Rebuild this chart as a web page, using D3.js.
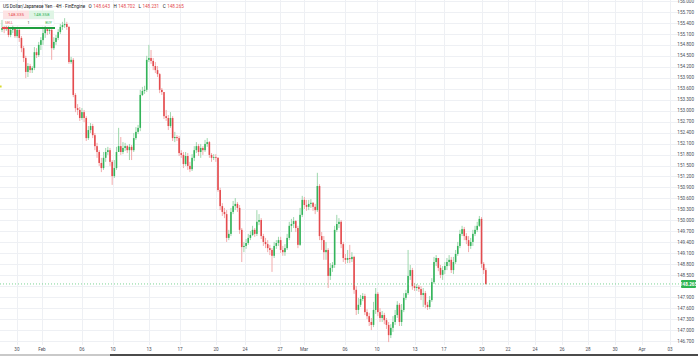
<!DOCTYPE html>
<html><head><meta charset="utf-8">
<script src="https://cdn.jsdelivr.net/npm/d3@7"></script>
<style>html,body{margin:0;padding:0;background:#fff;overflow:hidden}</style>
</head><body><svg id="c" width="698" height="356"></svg>
<script>
// ---- data (USD/JPY, 4H) ----
const firstOpen = 155.21;
const closes = [155.26,155.23,155.29,155.07,155.21,155.26,155.04,155.21,154.99,154.71,
154.44,154.06,154.22,154.11,154.17,154.60,154.52,154.80,154.93,155.12,
155.23,155.18,155.21,154.71,154.88,154.99,155.15,155.29,155.34,155.37,
155.29,154.33,154.39,153.43,153.07,153.02,152.80,152.96,152.80,152.25,
152.47,152.58,152.33,152.03,151.87,151.57,151.43,151.71,151.87,151.92,
151.60,151.21,151.43,151.87,152.03,151.87,151.98,152.03,151.92,152.01,
151.92,152.25,152.42,152.53,153.43,153.54,153.57,154.39,154.44,154.36,
154.22,154.11,154.00,153.57,153.51,152.85,152.80,152.58,152.80,152.25,
152.28,152.25,151.84,151.79,151.54,151.76,151.49,151.40,151.71,151.92,
152.03,151.87,151.98,151.92,152.09,152.14,151.79,151.71,151.73,151.71,
150.83,150.39,150.23,150.17,149.52,149.63,150.23,150.39,150.45,150.34,
149.74,149.27,149.30,149.38,149.52,149.60,149.74,149.63,149.96,150.01,
149.57,149.41,149.35,149.24,149.19,149.03,149.30,149.38,149.46,149.19,
149.13,149.24,149.52,149.85,149.90,149.98,149.79,149.33,150.15,150.56,
150.42,150.37,150.45,150.48,150.37,150.28,150.94,149.57,149.46,149.13,
149.19,148.48,148.70,148.78,149.74,149.90,149.96,149.35,148.97,148.92,
148.97,148.94,149.00,148.10,147.55,147.69,147.85,147.93,147.49,147.38,
147.22,147.14,147.55,147.99,147.49,147.33,147.41,147.27,147.14,146.86,
147.06,147.22,147.41,147.69,147.22,147.55,147.88,148.01,148.48,148.64,
148.20,148.15,148.18,148.12,147.96,148.01,147.69,147.63,147.82,148.31,
148.86,148.97,148.70,148.51,148.64,148.75,148.86,148.92,148.64,148.86,
149.08,149.30,149.63,149.76,149.57,149.46,149.30,149.41,149.63,149.74,
149.85,150.04,148.81,148.64,148.26];
const highs = [155.48,155.32,155.34,155.32,155.26,155.34,155.29,155.29,155.26,155.04,
154.77,154.50,154.30,154.28,154.22,154.74,154.71,154.88,155.01,155.23,
155.32,155.29,155.29,155.26,155.01,155.07,155.23,155.37,155.43,155.53,
155.43,155.32,154.47,154.44,153.48,153.18,153.10,153.07,153.02,152.85,
152.58,152.66,152.64,152.39,152.12,151.92,151.71,151.87,151.98,152.01,
151.98,151.65,151.65,152.01,152.53,152.28,152.14,152.12,152.06,152.09,
152.06,152.39,152.55,152.61,153.57,153.65,153.68,154.50,154.80,154.66,
154.44,154.33,154.22,154.03,153.62,153.37,153.02,152.88,152.96,152.85,
152.42,152.33,152.31,151.92,151.87,151.87,151.84,151.60,151.81,152.03,
152.14,152.09,152.09,152.03,152.20,152.25,152.17,151.84,151.81,151.81,
151.73,150.89,150.47,150.34,150.28,149.74,150.34,150.53,150.61,150.50,
150.42,149.79,149.41,149.49,149.63,149.71,149.85,149.79,150.28,150.17,
150.06,149.63,149.52,149.46,149.33,149.24,149.41,149.46,149.55,149.55,
149.30,149.35,149.63,149.96,150.04,150.09,150.01,149.85,150.34,150.67,
150.64,150.56,150.56,150.58,150.50,150.45,151.30,150.99,149.68,149.57,
149.41,149.24,148.83,148.86,149.85,150.15,150.06,150.01,149.41,149.08,
149.19,149.33,149.13,149.03,148.20,147.88,147.96,148.01,147.99,147.57,
147.47,147.33,147.77,148.15,148.04,147.60,147.52,147.47,147.33,147.22,
147.16,147.38,147.55,147.79,147.74,147.71,148.01,148.10,149.19,148.78,
148.70,148.29,148.26,148.23,148.20,148.15,148.07,147.77,147.93,148.42,
149.00,149.05,148.97,148.78,148.75,148.86,148.97,149.05,149.00,149.00,
149.19,149.41,149.74,149.85,149.82,149.65,149.57,149.52,149.74,149.85,
149.96,150.12,150.09,148.86,148.70];
const lows = [155.15,155.12,155.18,155.01,155.01,155.12,154.99,154.99,154.88,154.60,
154.33,153.89,153.92,154.03,154.03,154.11,154.44,154.47,154.66,154.80,
154.99,155.07,155.10,154.39,154.66,154.80,154.93,155.10,155.21,155.26,
155.21,154.28,154.28,153.37,152.96,152.88,152.72,152.75,152.69,152.17,
152.20,152.39,152.25,151.92,151.71,151.49,151.32,151.38,151.60,151.79,
151.49,150.97,151.16,151.38,151.92,151.79,151.81,151.90,151.84,151.65,
151.65,151.87,152.20,152.36,152.44,153.40,153.46,153.51,154.33,154.28,
154.11,154.03,153.92,153.48,153.43,152.77,152.72,152.47,152.53,152.17,
152.14,152.17,151.76,151.71,151.43,151.49,151.38,151.32,151.35,151.62,
151.84,151.76,151.71,151.79,151.87,152.01,151.71,151.60,151.65,151.60,
150.78,150.28,150.12,150.06,149.41,149.46,149.57,150.17,150.28,150.23,
149.63,148.86,149.13,149.22,149.33,149.46,149.57,149.55,149.57,149.87,
149.49,149.30,149.24,149.13,149.05,148.59,148.97,149.22,149.30,149.11,
149.03,149.03,149.19,149.46,149.68,149.79,149.68,149.24,149.30,150.09,
150.31,150.26,150.28,150.34,150.26,150.17,150.23,149.46,149.19,148.92,
148.92,148.15,148.37,148.59,148.70,149.68,149.79,149.24,148.86,148.81,
148.83,148.83,148.86,147.99,147.41,147.44,147.63,147.79,147.41,147.30,
147.11,147.00,147.08,147.44,147.38,147.22,147.22,147.16,147.03,146.67,
146.78,146.95,147.14,147.33,147.11,147.11,147.49,147.82,147.96,148.37,
148.10,148.07,148.07,148.04,147.82,147.63,147.60,147.55,147.57,147.77,
148.26,148.75,148.61,148.42,148.37,148.53,148.64,148.75,148.56,148.53,
148.81,149.03,149.24,149.57,149.46,149.35,149.13,149.22,149.30,149.57,
149.68,149.82,148.70,148.53,148.23];
const priceTicks = [146.7,147.0,147.3,147.6,147.9,148.2,148.5,148.8,149.1,149.4,149.7,150.0,
150.3,150.6,150.9,151.2,151.5,151.8,152.1,152.4,152.7,153.0,153.3,153.6,153.9,154.2,
154.5,154.8,155.1,155.4,155.7,156.0];
const timeTickLabels = ["30","Feb","06","10","13","17","20","24","27","Mar","06","10","13","17","20","22","24","26","28","30","Apr","03"];
const timeTickBars = [6.9,18.5,37,51.4,68.1,82.4,99.1,112.5,128.7,139.8,158.8,173.6,191.2,204.6,222.2,234.3,246.8,259.3,271.3,283.8,296.3,309.3];
const symbolTitle = "US Dollar/Japanese Yen · 4H · FinEngine";
const ohlcLabels = ["O","H","L","C"];
const ohlcValues = ["148.643","148.702","148.231","148.265"];
const sellPrice = "148.335", buyPrice = "148.358", qty = "1";
const lastPriceLabel = "148.265";

// ---- build ----
const opens = closes.map((c, i) => i === 0 ? firstOpen : closes[i - 1]);
const candles = closes.map((c, i) => ({i, o: opens[i], h: highs[i], l: lows[i], c}));

const W = 698, H = 356, plotRight = 680;
const svg = d3.select("#c");
const x = d3.scaleLinear().domain([0, 310]).range([2, 2 + 2.16 * 310]);
const y = d3.scaleLinear().domain([146.7, 156.0]).range([341, 1]);
const UP = "#33b45a", DN = "#e44b4e", UPW = "#93d3a4", DNW = "#f0a1a3";
const font = "Roboto, 'Liberation Sans', Arial, sans-serif";

// grid
svg.append("g").selectAll("line").data(priceTicks).join("line")
  .attr("x1", 0).attr("x2", plotRight).attr("y1", d => Math.round(y(d)) + 0.5).attr("y2", d => Math.round(y(d)) + 0.5)
  .attr("stroke", "#eef0f4").attr("stroke-width", 1);
svg.append("g").selectAll("line").data(timeTickBars).join("line")
  .attr("x1", d => Math.round(x(d)) + 0.5).attr("x2", d => Math.round(x(d)) + 0.5).attr("y1", 0).attr("y2", 345)
  .attr("stroke", "#eef0f4").attr("stroke-width", 1);

// candles
const g = svg.append("g");
g.selectAll("line.w").data(candles).join("line").attr("class", "w")
  .attr("x1", d => x(d.i)).attr("x2", d => x(d.i))
  .attr("y1", d => y(d.h)).attr("y2", d => y(d.l))
  .attr("stroke", d => d.c >= d.o ? UPW : DNW).attr("stroke-width", 0.9);
g.selectAll("rect.b").data(candles).join("rect").attr("class", "b")
  .attr("x", d => x(d.i) - 0.8).attr("width", 1.6)
  .attr("y", d => y(Math.max(d.o, d.c)))
  .attr("height", d => Math.max(0.8, Math.abs(y(d.o) - y(d.c))))
  .attr("fill", d => d.c >= d.o ? UP : DN);

// current price line
const lastY = y(closes[closes.length - 1]);
svg.append("line").attr("x1", 0).attr("x2", plotRight).attr("y1", lastY).attr("y2", lastY)
  .attr("stroke", "#5cc97a").attr("stroke-width", 0.8).attr("stroke-dasharray", "1,2");

// right price axis (labels hidden under the last-price tag are skipped)
svg.append("g").selectAll("text").data(priceTicks.filter(d => Math.abs(y(d) - lastY) > 6)).join("text")
  .attr("x", 694).attr("y", d => y(d)).attr("dy", "0.35em").attr("text-anchor", "end")
  .attr("font-family", font).attr("font-size", 4.6).attr("fill", "#4a4e59")
  .text(d => d.toFixed(3));
svg.append("rect").attr("x", 681).attr("y", lastY - 4).attr("width", 15).attr("height", 8).attr("rx", 1)
  .attr("fill", "#2fb552");
svg.append("text").attr("x", 688.5).attr("y", lastY).attr("dy", "0.35em").attr("text-anchor", "middle")
  .attr("font-family", font).attr("font-size", 4.6).attr("font-weight", "bold").attr("fill", "#fff").text(lastPriceLabel);

// time axis
svg.append("g").selectAll("text").data(timeTickBars).join("text")
  .attr("x", d => x(d)).attr("y", 351).attr("text-anchor", "middle")
  .attr("font-family", font).attr("font-size", 4.6).attr("fill", "#4a4e59")
  .text((d, k) => timeTickLabels[k]);

// header
const hdr = svg.append("text").attr("x", 3).attr("y", 7.5).attr("font-family", font).attr("font-size", 4.6).attr("fill", "#131722");
hdr.append("tspan").text(symbolTitle);
ohlcLabels.forEach((l, k) => {
  hdr.append("tspan").attr("dx", 3.5).attr("fill", "#131722").text(l);
  hdr.append("tspan").attr("dx", 1.5).attr("fill", DN).text(ohlcValues[k]);
});

// trading widget
svg.append("rect").attr("x", 3).attr("y", 10.5).attr("width", 26).attr("height", 8.5).attr("fill", "#fde3e4");
svg.append("rect").attr("x", 29).attr("y", 10.5).attr("width", 25).attr("height", 8.5).attr("fill", "#dff5e5");
svg.append("rect").attr("x", 3).attr("y", 19).attr("width", 51).attr("height", 6.5).attr("fill", "#fff").attr("stroke", "#e4e6ea").attr("stroke-width", 0.4);
svg.append("text").attr("x", 16).attr("y", 16.3).attr("text-anchor", "middle").attr("font-family", font).attr("font-size", 4.4).attr("fill", DN).text(sellPrice);
svg.append("text").attr("x", 41.5).attr("y", 16.3).attr("text-anchor", "middle").attr("font-family", font).attr("font-size", 4.4).attr("fill", UP).text(buyPrice);
svg.append("text").attr("x", 5).attr("y", 23.7).attr("font-family", font).attr("font-size", 3.6).attr("fill", DN).text("SELL");
svg.append("text").attr("x", 28.5).attr("y", 23.7).attr("text-anchor", "middle").attr("font-family", font).attr("font-size", 3.6).attr("fill", "#333").text(qty);
svg.append("text").attr("x", 52).attr("y", 23.7).attr("text-anchor", "end").attr("font-family", font).attr("font-size", 3.6).attr("fill", UP).text("BUY");
svg.append("rect").attr("x", 2).attr("y", 27).attr("width", 53).attr("height", 2).attr("fill", "#1f9e3e");
svg.append("rect").attr("x", 2).attr("y", 27).attr("width", 6).attr("height", 2).attr("fill", DN);
svg.append("rect").attr("x", 0).attr("y", 85.5).attr("width", 1.6).attr("height", 2).attr("fill", "#d7d930");

// bottom bar
svg.append("rect").attr("x", 0).attr("y", 354).attr("width", W).attr("height", 2).attr("fill", "#4b4b4b");
svg.append("rect").attr("x", 0).attr("y", 354).attr("width", 110).attr("height", 2).attr("fill", "#c9c9c9");
</script></body></html>
